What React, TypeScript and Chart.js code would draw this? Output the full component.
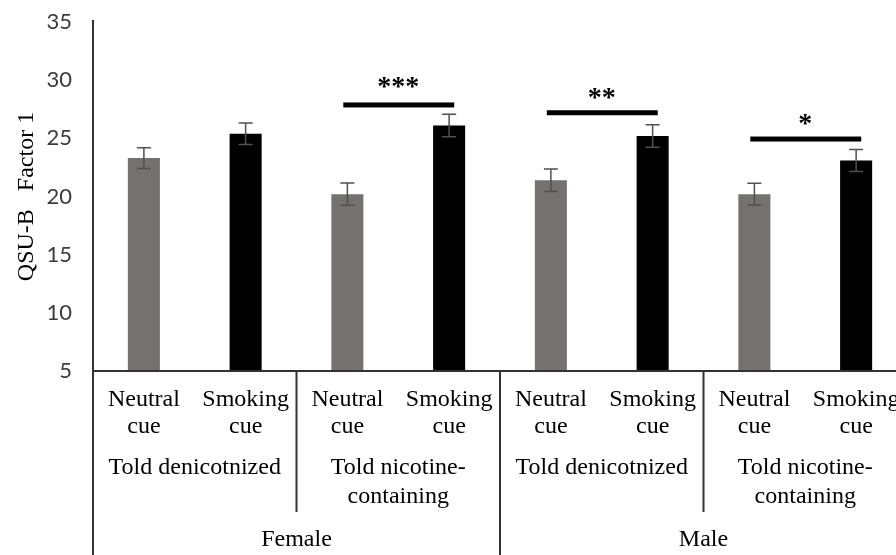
import React, { useEffect, useRef } from "react";
import { Chart, registerables } from "chart.js";

Chart.register(...registerables);

// ---- data ----
const cueLabels: string[][] = [
  ["Neutral", "cue"],
  ["Smoking", "cue"],
  ["Neutral", "cue"],
  ["Smoking", "cue"],
  ["Neutral", "cue"],
  ["Smoking", "cue"],
  ["Neutral", "cue"],
  ["Smoking", "cue"],
];
const conditionLabels: string[][] = [
  ["Told denicotnized"],
  ["Told nicotine-", "containing"],
  ["Told denicotnized"],
  ["Told nicotine-", "containing"],
];
const sexLabels: string[] = ["Female", "Male"];
const means: number[] = [23.3, 25.4, 20.2, 26.1, 21.4, 25.2, 20.2, 23.1];
const sems: number[] = [0.9, 0.92, 0.96, 0.96, 0.96, 0.96, 0.94, 0.95];
const barColors: string[] = [
  "#767171", "#000000", "#767171", "#000000",
  "#767171", "#000000", "#767171", "#000000",
];
const sigFrom: number[] = [2, 4, 6];
const sigTo: number[] = [3, 5, 7];
const sigLineY: number[] = [27.87, 27.2, 24.94];
const sigStarY: number[] = [29.76, 28.81, 26.58];
const sigText: string[] = ["***", "**", "*"];
const yMin = 5;
const yMax = 35;
const yStep = 5;
const yTitle = "QSU-B   Factor 1";

const SERIF = "'Liberation Serif', 'Times New Roman', serif";

const decorPlugin = {
  id: "decor",
  afterDatasetsDraw(chart: any) {
    const ctx = chart.ctx as CanvasRenderingContext2D;
    const xs = chart.scales.x;
    const ys = chart.scales.y;
    const meta = chart.getDatasetMeta(0);
    ctx.save();
    // error bars
    ctx.strokeStyle = "#505050";
    ctx.lineWidth = 1.5;
    meta.data.forEach((el: any, i: number) => {
      const x = el.x;
      const yt = ys.getPixelForValue(means[i] + sems[i]);
      const yb = ys.getPixelForValue(means[i] - sems[i]);
      ctx.beginPath();
      ctx.moveTo(x, yt);
      ctx.lineTo(x, yb);
      ctx.moveTo(x - 7, yt);
      ctx.lineTo(x + 7, yt);
      ctx.moveTo(x - 7, yb);
      ctx.lineTo(x + 7, yb);
      ctx.stroke();
    });
    // significance
    const catW = xs.getPixelForValue(1) - xs.getPixelForValue(0);
    ctx.fillStyle = "#000";
    ctx.font = `bold 28px ${SERIF}`;
    ctx.textAlign = "center";
    ctx.textBaseline = "alphabetic";
    sigFrom.forEach((f, k) => {
      const x1 = xs.getPixelForValue(f) - 0.04 * catW;
      const x2 = xs.getPixelForValue(sigTo[k]) + 0.05 * catW;
      const y = ys.getPixelForValue(sigLineY[k]);
      ctx.fillRect(x1, y - 2.5, x2 - x1, 5);
      const sy = ys.getPixelForValue(sigStarY[k]);
      ctx.fillText(sigText[k], (xs.getPixelForValue(f) + xs.getPixelForValue(sigTo[k])) / 2, sy + 12);
    });
    ctx.restore();
  },
  afterDraw(chart: any) {
    const ctx = chart.ctx as CanvasRenderingContext2D;
    const xs = chart.scales.x;
    const area = chart.chartArea;
    const H = chart.height;
    const px = (i: number) => xs.getPixelForValue(i);
    const bound = (i: number) => (px(i - 1) + px(i)) / 2;
    ctx.save();
    ctx.strokeStyle = "#333";
    ctx.lineWidth = 2;
    ctx.beginPath();
    // x axis line
    ctx.moveTo(area.left, area.bottom);
    ctx.lineTo(chart.width, area.bottom);
    // y axis line (full height)
    ctx.moveTo(area.left, area.top - 2);
    ctx.lineTo(area.left, H);
    // separators
    ctx.moveTo(bound(2), area.bottom);
    ctx.lineTo(bound(2), area.bottom + 141);
    ctx.moveTo(bound(4), area.bottom);
    ctx.lineTo(bound(4), H);
    ctx.moveTo(bound(6), area.bottom);
    ctx.lineTo(bound(6), area.bottom + 141);
    ctx.stroke();

    ctx.fillStyle = "#000";
    ctx.font = `24px ${SERIF}`;
    ctx.textAlign = "center";
    ctx.textBaseline = "middle";
    conditionLabels.forEach((lines, g) => {
      const cx = (px(g * 2) + px(g * 2 + 1)) / 2;
      lines.forEach((t, li) => {
        ctx.fillText(t, cx, area.bottom + 97 + li * 29);
      });
    });
    sexLabels.forEach((t, g) => {
      const cx = (px(g * 4) + px(g * 4 + 3)) / 2;
      ctx.fillText(t, cx, area.bottom + 169);
    });
    ctx.restore();
  },
};

export default function App() {
  const ref = useRef<HTMLCanvasElement | null>(null);
  useEffect(() => {
    if (!ref.current) return;
    const chart = new Chart(ref.current, {
      type: "bar",
      data: {
        labels: cueLabels,
        datasets: [
          {
            data: means,
            backgroundColor: barColors,
            borderWidth: 0,
            barPercentage: 0.315,
            categoryPercentage: 1,
          },
        ],
      },
      options: {
        responsive: false,
        animation: false,
        events: [],
        layout: { padding: { top: 22, right: 5, bottom: 0, left: 0 } },
        plugins: {
          legend: { display: false },
          tooltip: { enabled: false },
          title: { display: false },
        },
        scales: {
          x: {
            grid: { display: false, drawTicks: false },
            border: { display: false },
            afterFit: (s: any) => {
              s.height = 184;
              s.paddingLeft = 0;
              s.paddingRight = 0;
            },
            ticks: {
              autoSkip: false,
              maxRotation: 0,
              minRotation: 0,
              padding: 15,
              color: "#000",
              font: { family: SERIF, size: 24, lineHeight: 1.125 },
            },
          },
          y: {
            min: yMin,
            max: yMax,
            grid: { display: false, drawTicks: false },
            border: { display: false },
            afterFit: (s: any) => {
              s.width = 93;
              s.paddingTop = 0;
              s.paddingBottom = 0;
            },
            ticks: {
              stepSize: yStep,
              padding: 21,
              color: "#3b3b3b",
              font: { family: "Lato, 'Liberation Sans', sans-serif", size: 22 },
            },
            title: {
              display: true,
              text: yTitle,
              color: "#000",
              font: { family: SERIF, size: 24 },
              padding: { top: 12, bottom: 0 },
            },
          },
        },
      },
      plugins: [decorPlugin],
    });
    return () => chart.destroy();
  }, []);
  return (
    <div
      style={{
        position: "fixed",
        left: 0,
        top: 0,
        width: 896,
        height: 555,
        overflow: "hidden",
        background: "#fff",
      }}
    >
      <canvas ref={ref} width={912} height={555} style={{ width: 912, height: 555, display: "block" }} />
    </div>
  );
}
